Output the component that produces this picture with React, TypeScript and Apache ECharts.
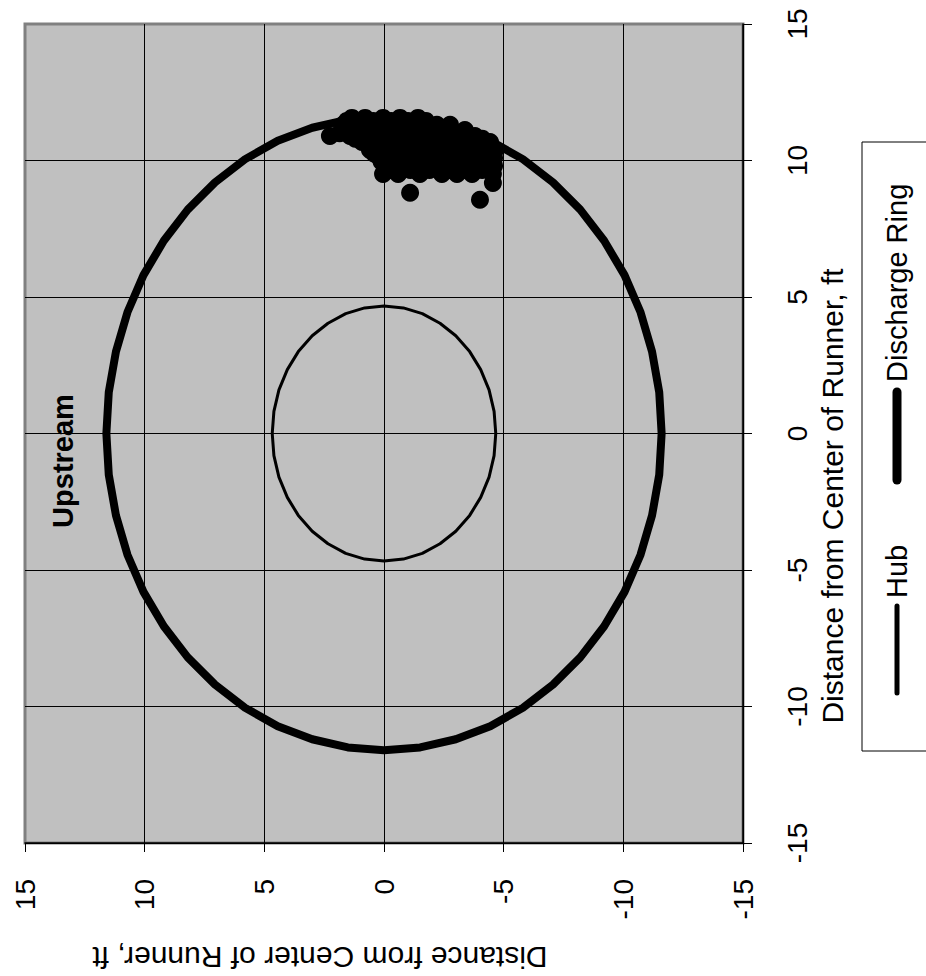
import React, { useEffect, useRef } from "react";
import * as echarts from "echarts";

// The reference chart is printed rotated 90° counter-clockwise.
// Points are stored in the ORIGINAL chart coordinates [h, v]:
//   h = horizontal distance from centre of runner (now the right-hand axis, up = +)
//   v = vertical distance from centre of runner (now the bottom axis, left = +)

const AXIS_MIN = -15;
const AXIS_MAX = 15;
const AXIS_STEP = 5;

const AXIS_TITLE = "Distance from Center of Runner, ft";
const SERIES_NAMES = ["Hub", "Discharge Ring"];
const NOTE = "Upstream";

// Hub outline (radius about 4.67 ft)
const hubPoints: [number, number][] = [
  [0, 4.67], [0.81, 4.6], [1.6, 4.39], [2.34, 4.04], [3.0, 3.58], [3.58, 3.0], [4.04, 2.34], [4.39, 1.6], [4.6, 0.81],
  [4.67, 0], [4.6, -0.81], [4.39, -1.6], [4.04, -2.34], [3.58, -3.0], [3.0, -3.58], [2.34, -4.04], [1.6, -4.39], [0.81, -4.6],
  [0, -4.67], [-0.81, -4.6], [-1.6, -4.39], [-2.34, -4.04], [-3.0, -3.58], [-3.58, -3.0], [-4.04, -2.34], [-4.39, -1.6], [-4.6, -0.81],
  [-4.67, 0], [-4.6, 0.81], [-4.39, 1.6], [-4.04, 2.34], [-3.58, 3.0], [-3.0, 3.58], [-2.34, 4.04], [-1.6, 4.39], [-0.81, 4.6],
  [0, 4.67],
];

// Discharge ring outline (radius about 11.6 ft)
const ringPoints: [number, number][] = [
  [0, 11.6], [1.51, 11.5], [3.0, 11.2], [4.44, 10.72], [5.8, 10.05], [7.06, 9.2], [8.2, 8.2], [9.2, 7.06], [10.05, 5.8], [10.72, 4.44], [11.2, 3.0], [11.5, 1.51],
  [11.6, 0], [11.5, -1.51], [11.2, -3.0], [10.72, -4.44], [10.05, -5.8], [9.2, -7.06], [8.2, -8.2], [7.06, -9.2], [5.8, -10.05], [4.44, -10.72], [3.0, -11.2], [1.51, -11.5],
  [0, -11.6], [-1.51, -11.5], [-3.0, -11.2], [-4.44, -10.72], [-5.8, -10.05], [-7.06, -9.2], [-8.2, -8.2], [-9.2, -7.06], [-10.05, -5.8], [-10.72, -4.44], [-11.2, -3.0], [-11.5, -1.51],
  [-11.6, 0], [-11.5, 1.51], [-11.2, 3.0], [-10.72, 4.44], [-10.05, 5.8], [-9.2, 7.06], [-8.2, 8.2], [-7.06, 9.2], [-5.8, 10.05], [-4.44, 10.72], [-3.0, 11.2], [-1.51, 11.5],
  [0, 11.6],
];

// Observed positions (dense cluster near the discharge ring)
const hitPoints: [number, number][] = [
  [11.56, 1.34], [11.56, 0.79], [11.56, 0.04], [11.56, -0.67], [11.56, -1.42],
  [11.45, 1.55], [11.45, 1.05], [11.45, 0.45], [11.45, -0.3], [11.45, -1.0], [11.45, -1.75],
  [11.31, 1.71], [11.31, -2.21], [11.31, -2.76],
  [11.12, 1.0], [11.12, 0.38], [11.12, -0.33], [11.12, -1.09], [11.12, -1.84], [11.12, -2.55], [11.12, -3.38],
  [11.0, 1.85], [11.0, 1.2], [11.0, 0.5], [11.0, -0.2], [11.0, -0.9], [11.0, -1.65], [11.0, -2.4], [11.0, -3.0],
  [10.9, 2.26], [10.9, 1.42], [10.9, 0.67], [10.9, -0.04], [10.9, -0.75], [10.9, -1.5], [10.9, -2.34], [10.9, -3.09], [10.9, -3.8],
  [10.8, 1.2], [10.8, 0.4], [10.8, -3.4], [10.8, -4.1],
  [10.68, 0.92], [10.68, 0.17], [10.68, -0.46], [10.68, -1.17], [10.68, -1.92], [10.68, -2.76], [10.68, -3.51], [10.68, -4.43],
  [10.55, 0.3], [10.55, -0.3], [10.55, -1.0], [10.55, -1.75], [10.55, -2.5], [10.55, -3.2], [10.55, -3.9],
  [10.39, 0.59], [10.39, -0.17], [10.39, -0.88], [10.39, -1.59], [10.39, -2.26], [10.39, -2.97], [10.39, -3.68], [10.39, -4.35], [10.39, -4.64],
  [10.25, 0.4], [10.25, -0.3], [10.25, -1.0], [10.25, -1.7], [10.25, -2.4], [10.25, -3.1], [10.25, -3.8], [10.25, -4.3],
  [10.1, 0.17], [10.1, -0.59], [10.1, -1.3], [10.1, -2.01], [10.1, -2.67], [10.1, -3.38], [10.1, -4.1], [10.1, -4.6],
  [9.95, 0.1], [9.95, -0.6], [9.95, -1.3], [9.95, -2.0], [9.95, -2.7], [9.95, -3.4], [9.95, -4.1],
  [9.81, -0.04], [9.81, -0.75], [9.81, -1.5], [9.81, -2.21], [9.81, -2.84], [9.81, -3.59], [9.81, -4.35], [9.81, -4.6],
  [9.65, -0.3], [9.65, -1.1], [9.65, -1.9], [9.65, -2.7], [9.65, -3.4], [9.65, -4.1],
  [9.51, 0.04], [9.51, -0.59], [9.51, -1.5], [9.51, -2.42], [9.51, -3.05], [9.51, -3.68], [9.51, -4.55],
  [9.18, -4.55], [8.82, -1.09], [8.56, -4.01],
];

const FONT = "'Liberation Sans', Arial, Helvetica, sans-serif";

export default function App() {
  const ref = useRef<HTMLDivElement>(null);

  useEffect(() => {
    document.body.style.margin = "0";
    if (!ref.current) return;
    const chart = echarts.init(ref.current, undefined, { renderer: "svg" });
    // rotate: original [h, v] -> screen [bottom axis = v, right axis = h]
    const toData = (pts: [number, number][]) => pts.map(([h, v]) => [v, h]);

    const axisCommon = {
      type: "value",
      min: AXIS_MIN,
      max: AXIS_MAX,
      interval: AXIS_STEP,
      axisLine: { show: true, onZero: false, lineStyle: { color: "#000", width: 1.5 } },
      axisTick: { show: true, inside: false, length: 9, lineStyle: { color: "#000", width: 1 } },
      splitLine: { show: true, showMaxLine: false, lineStyle: { color: "#000", width: 1 } },
    };

    const textStyle = (text: string, font: string, align: string) => ({
      text,
      font,
      fill: "#000",
      align,
      verticalAlign: "middle",
      textAlign: align,
      textVerticalAlign: "middle",
    });

    chart.setOption({
      animation: false,
      backgroundColor: "#ffffff",
      grid: {
        left: 25,
        top: 24,
        width: 718,
        height: 819,
        show: true,
        backgroundColor: "#c0c0c0",
        borderColor: "#808080",
        borderWidth: 3,
      },
      xAxis: {
        ...axisCommon,
        inverse: true,
        position: "bottom",
        axisLabel: { rotate: 90, margin: 36, fontSize: 28, fontFamily: FONT, color: "#000" },
      },
      yAxis: {
        ...axisCommon,
        position: "right",
        axisLabel: { rotate: 90, margin: 40, fontSize: 28, fontFamily: FONT, color: "#000" },
      },
      series: [
        {
          name: SERIES_NAMES[0],
          type: "line",
          data: toData(hubPoints),
          smooth: false,
          showSymbol: false,
          lineStyle: { color: "#000", width: 3, join: "round" },
          z: 3,
        },
        {
          name: SERIES_NAMES[1],
          type: "line",
          data: toData(ringPoints),
          smooth: false,
          showSymbol: false,
          lineStyle: { color: "#000", width: 8, join: "round" },
          z: 3,
        },
        {
          name: "Observations",
          type: "scatter",
          data: toData(hitPoints),
          symbol: "circle",
          symbolSize: 18,
          itemStyle: { color: "#000", opacity: 1 },
          z: 4,
        },
      ],
      graphic: [
        {
          type: "text",
          x: 63,
          y: 461,
          rotation: Math.PI / 2,
          z: 100,
          style: textStyle(NOTE, `bold 29px ${FONT}`, "center"),
        },
        {
          type: "text",
          x: 832,
          y: 496,
          rotation: Math.PI / 2,
          z: 100,
          style: textStyle(AXIS_TITLE, `30px ${FONT}`, "center"),
        },
        {
          type: "text",
          x: 320,
          y: 957,
          rotation: Math.PI,
          z: 100,
          style: textStyle(AXIS_TITLE, `30px ${FONT}`, "center"),
        },
        {
          type: "rect",
          z: 100,
          shape: { x: 862, y: 142, width: 100, height: 609 },
          style: { fill: "#fff", stroke: "#000", lineWidth: 1 },
        },
        {
          type: "line",
          z: 101,
          shape: { x1: 897, y1: 606, x2: 897, y2: 693 },
          style: { stroke: "#000", lineWidth: 5, lineCap: "round" },
        },
        {
          type: "text",
          x: 897,
          y: 598,
          rotation: Math.PI / 2,
          z: 101,
          style: textStyle(SERIES_NAMES[0], `29px ${FONT}`, "left"),
        },
        {
          type: "line",
          z: 101,
          shape: { x1: 897, y1: 392, x2: 897, y2: 480 },
          style: { stroke: "#000", lineWidth: 9, lineCap: "round" },
        },
        {
          type: "text",
          x: 897,
          y: 382,
          rotation: Math.PI / 2,
          z: 101,
          style: textStyle(SERIES_NAMES[1], `29px ${FONT}`, "left"),
        },
      ],
    });

    return () => chart.dispose();
  }, []);

  return (
    <div
      ref={ref}
      style={{ position: "fixed", left: 0, top: 0, width: 926, height: 976 }}
    />
  );
}
